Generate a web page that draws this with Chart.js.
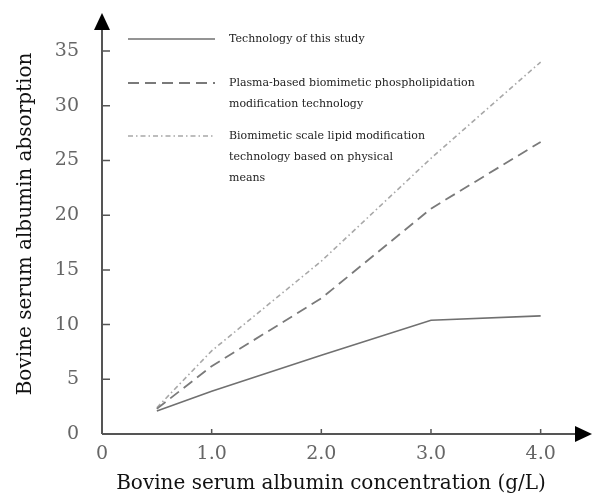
<!DOCTYPE html>
<html>
<head>
<meta charset="utf-8">
<script src="https://cdn.jsdelivr.net/npm/chart.js@4"></script>
<style>
  html, body { margin: 0; padding: 0; background: #fff; }
  #wrap { width: 595px; height: 501px; }
</style>
</head>
<body>
<div id="wrap"><canvas id="myChart"></canvas></div>
<script>
const concentration = [0.5, 1.0, 2.0, 3.0, 4.0];
const thisStudy = [2.1, 3.9, 7.2, 10.4, 10.8];
const plasmaBased = [2.3, 6.2, 12.4, 20.6, 26.7];
const scaleLipid = [2.4, 7.6, 15.8, 25.2, 34.0];
const xTicks = [0, 1, 2, 3, 4];
const yTicks = [0, 5, 10, 15, 20, 25, 30, 35];
const xTitle = 'Bovine serum albumin concentration (g/L)';
const yTitle = 'Bovine serum albumin absorption';
const legendLines = [
  ['Technology of this study'],
  ['Plasma-based biomimetic phospholipidation', 'modification technology'],
  ['Biomimetic scale lipid modification', 'technology based on physical', 'means']
];

const serif = '"DejaVu Serif", "Liberation Serif", serif';
Chart.defaults.color = '#555';
Chart.defaults.font.family = serif;

function pts(ys) {
  return concentration.map((x, i) => ({ x: x, y: ys[i] }));
}

const styles = [
  { color: '#707070', dash: [], width: 1.6 },
  { color: '#7a7a7a', dash: [11, 6], width: 1.8 },
  { color: '#a8a8a8', dash: [5, 3, 1.5, 3], width: 1.6 }
];

// axis lines, small tick marks, arrow heads, titles and the text legend
const decor = {
  id: 'decor',
  afterDatasetsDraw(chart) {
    const c = chart.ctx;
    const xs = chart.scales.x, ys = chart.scales.y;
    const x0 = xs.getPixelForValue(0), y0 = ys.getPixelForValue(0);
    const yTop = ys.getPixelForValue(ys.max);
    const xEnd = xs.getPixelForValue(xs.max);
    c.save();
    c.strokeStyle = '#555';
    c.lineWidth = 2;
    c.beginPath();
    c.moveTo(x0, y0);
    c.lineTo(x0, yTop + 12);
    c.moveTo(x0, y0);
    c.lineTo(xEnd - 12, y0);
    c.stroke();
    c.lineWidth = 1.5;
    c.beginPath();
    yTicks.slice(1).forEach(v => {
      const p = ys.getPixelForValue(v);
      c.moveTo(x0, p); c.lineTo(x0 + 8, p);
    });
    xTicks.slice(1).forEach(v => {
      const p = xs.getPixelForValue(v);
      c.moveTo(p, y0); c.lineTo(p, y0 - 5);
    });
    c.stroke();
    c.fillStyle = '#000';
    c.beginPath();
    c.moveTo(x0, yTop - 2);
    c.lineTo(x0 - 8, yTop + 15);
    c.lineTo(x0 + 8, yTop + 15);
    c.closePath();
    c.fill();
    c.beginPath();
    c.moveTo(xEnd + 2, y0);
    c.lineTo(xEnd - 15, y0 - 8);
    c.lineTo(xEnd - 15, y0 + 8);
    c.closePath();
    c.fill();

    // axis titles
    c.fillStyle = '#111';
    c.font = '20px ' + serif;
    c.textAlign = 'center';
    c.textBaseline = 'middle';
    c.fillText(xTitle, 331, 484);
    c.save();
    c.translate(26, 224);
    c.rotate(-Math.PI / 2);
    c.fillText(yTitle, 0, 0);
    c.restore();

    // legend
    const tops = [39, 83, 136];
    c.font = '11px ' + serif;
    c.textAlign = 'left';
    c.fillStyle = '#222';
    legendLines.forEach((lines, i) => {
      const st = styles[i];
      c.strokeStyle = st.color;
      c.lineWidth = st.width;
      c.setLineDash(st.dash);
      c.beginPath();
      c.moveTo(128, tops[i]);
      c.lineTo(215, tops[i]);
      c.stroke();
      c.setLineDash([]);
      lines.forEach((t, j) => {
        c.fillText(t, 229, tops[i] + j * 21);
      });
    });
    c.restore();
  }
};

new Chart(document.getElementById('myChart'), {
  type: 'line',
  data: {
    datasets: [thisStudy, plasmaBased, scaleLipid].map((d, i) => ({
      label: legendLines[i].join(' '),
      data: pts(d),
      borderColor: styles[i].color,
      borderDash: styles[i].dash,
      borderWidth: styles[i].width,
      pointRadius: 0,
      tension: 0,
      fill: false
    }))
  },
  options: {
    animation: false,
    responsive: true,
    maintainAspectRatio: false,
    layout: { autoPadding: false, padding: { top: 15, right: 5, left: 0, bottom: 0 } },
    scales: {
      x: {
        type: 'linear',
        min: 0,
        max: 4.45,
        afterBuildTicks: s => { s.ticks = xTicks.map(v => ({ value: v })); },
        afterFit: s => { s.height = 67; s.paddingLeft = 0; s.paddingRight = 0; },
        grid: { display: false, drawTicks: false },
        border: { display: false },
        ticks: {
          padding: 9,
          font: { size: 19 },
          color: '#666',
          callback: v => v === 0 ? '0' : v.toFixed(1)
        }
      },
      y: {
        min: 0,
        max: 38.3,
        afterBuildTicks: s => { s.ticks = yTicks.map(v => ({ value: v })); },
        afterFit: s => { s.width = 102; s.paddingTop = 0; s.paddingBottom = 0; },
        grid: { display: false, drawTicks: false },
        border: { display: false },
        ticks: {
          padding: 23,
          font: { size: 19 },
          color: '#666'
        }
      }
    },
    plugins: {
      legend: { display: false },
      tooltip: { enabled: false }
    }
  },
  plugins: [decor]
});
</script>
</body>
</html>
